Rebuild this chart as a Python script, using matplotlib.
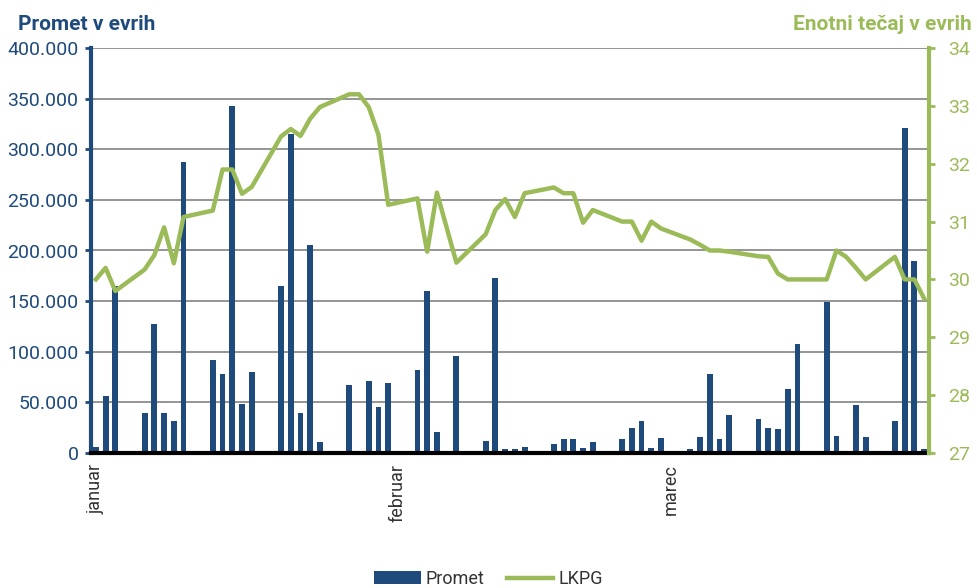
import matplotlib
matplotlib.use('Agg')
import matplotlib.pyplot as plt
from matplotlib.ticker import FuncFormatter
from matplotlib.patches import Patch
from matplotlib.lines import Line2D

plt.rcParams['font.family'] = ['Roboto', 'DejaVu Sans']

modra = '#1f4a7c'
zelena = '#9bbb59'

# dan v letu (0 = 1. januar), samo trgovalni dnevi
dnevi = [0, 1, 2, 5, 6, 7, 8, 9, 12, 13, 14, 15, 16, 19, 20, 21, 22, 23,
         26, 27, 28, 29, 30, 33, 34, 35, 37, 40, 41, 42, 43, 44, 47, 48, 49,
         50, 51, 54, 55, 56, 57, 58, 61, 62, 63, 64, 65, 68, 69, 70, 71, 72,
         75, 76, 77, 78, 79, 82, 83, 84, 85]

promet = [6000, 56000, 165000, 40000, 127000, 40000, 32000, 287000,
          92000, 78000, 343000, 48000, 80000, 165000, 315000, 40000,
          205000, 11000, 67000, 0, 71000, 45000, 69000, 82000, 160000,
          21000, 96000, 12000, 173000, 3600, 3600, 6000, 8500, 13500,
          13500, 5000, 11000, 13500, 25000, 32000, 4600, 15000, 3600,
          16000, 78000, 13500, 38000, 33500, 25000, 23700, 63000, 108000,
          149500, 17000, 1500, 47000, 16000, 32000, 321000, 190000, 3600]

lkpg = [30.0, 30.2, 29.8, 30.17, 30.42, 30.9, 30.28, 31.08,
        31.19, 31.9, 31.9, 31.48, 31.6, 32.47, 32.6, 32.48,
        32.78, 32.98, 33.2, 33.2, 32.98, 32.5, 31.29, 31.4, 30.48,
        31.5, 30.29, 30.78, 31.2, 31.39, 31.08, 31.49, 31.59, 31.49,
        31.49, 30.98, 31.2, 31.0, 31.0, 30.67, 31.0, 30.88, 30.69,
        30.6, 30.5, 30.5, 30.48, 30.4, 30.39, 30.1, 30.0, 30.0,
        30.0, 30.5, 30.39, 30.2, 30.0, 30.39, 30.0, 30.0, 29.67]

meseci = ['januar', 'februar', 'marec']
meseci_dan = [0, 31, 59]

fig = plt.figure(figsize=(9.77, 5.88), dpi=100)
ax = fig.add_axes([91/977, 1-453/588, (929-91)/977, (453-48)/588])
ax2 = ax.twinx()

ax.bar(dnevi, promet, width=0.6, color=modra, zorder=2)
ax2.plot(dnevi, lkpg, color=zelena, lw=3.2, solid_joinstyle='round', zorder=3)

ax.set_xlim(-0.5, 85.5)
ax.set_ylim(0, 400000)
ax2.set_ylim(27, 34)
ax.set_yticks(range(0, 400001, 50000))
ax2.set_yticks(range(27, 35))
ax.yaxis.set_major_formatter(FuncFormatter(lambda v, p: f'{int(v):,}'.replace(',', '.')))

ax.set_axisbelow(True)
ax.grid(axis='y', color='#8c8c8c', lw=1.3)

ax.set_xticks(meseci_dan)
ax.set_xticklabels(meseci, rotation=90, va='top', ha='center', color='#333333', fontsize=13)
ax.tick_params(axis='x', length=0, pad=8)

ax.tick_params(axis='y', colors=modra, labelsize=14, length=4, width=2, pad=5)
ax2.tick_params(axis='y', colors=zelena, labelsize=14, length=4, width=2, pad=10)

for a in (ax, ax2):
    for s in a.spines.values():
        s.set_visible(False)
ax.spines['left'].set_visible(True)
ax.spines['left'].set_color(modra)
ax.spines['left'].set_linewidth(3)
ax2.spines['right'].set_visible(True)
ax2.spines['right'].set_color(zelena)
ax2.spines['right'].set_linewidth(3)
ax.spines['bottom'].set_visible(True)
ax.spines['bottom'].set_color('black')
ax.spines['bottom'].set_linewidth(3)
ax.spines['bottom'].set_zorder(5)

fig.text(18/977, 1-25/588, 'Promet v evrih', color=modra, fontsize=15,
         fontweight='bold', va='center', ha='left')
fig.text(972/977, 1-25/588, 'Enotni tečaj v evrih', color=zelena, fontsize=15,
         fontweight='bold', va='center', ha='right')

roke = [Patch(facecolor=modra, label='Promet'),
        Line2D([], [], color=zelena, lw=3.2, label='LKPG')]
fig.legend(handles=roke, loc='center', bbox_to_anchor=(0.5, 9/588), ncol=2,
           frameon=False, fontsize=13, handlelength=2.6, handleheight=0.7,
           columnspacing=1.2, handletextpad=0.3, labelcolor='#333333')

fig.savefig('out.png', dpi=100)
